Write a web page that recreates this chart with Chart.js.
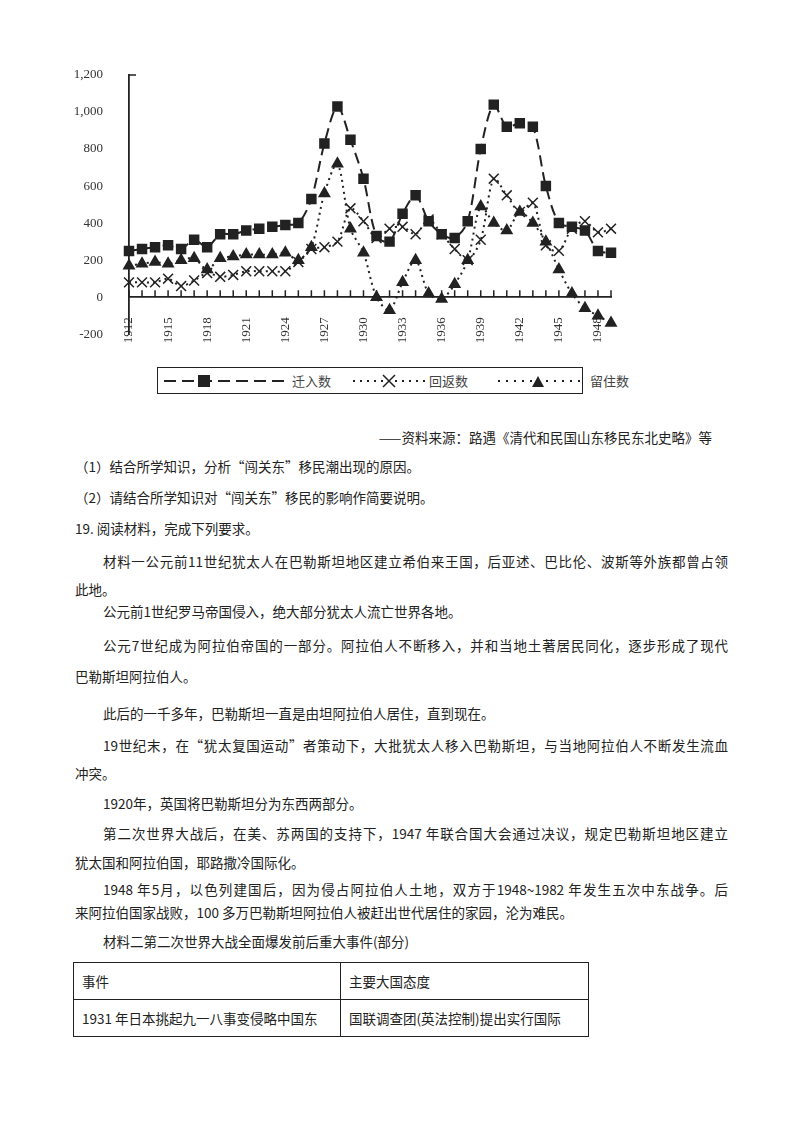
<!DOCTYPE html>
<html>
<head>
<meta charset="utf-8">
<script src="https://cdn.jsdelivr.net/npm/chart.js@4/dist/chart.umd.min.js"></script>
<style>
  body { margin: 0; background: #fff; width: 800px; height: 1132px; position: relative; overflow: hidden;
         font-family: "Noto Sans CJK SC", sans-serif; color: #222; }
  #wrap { position: absolute; left: 0; top: 0; width: 800px; height: 360px; }
  #legend { position: absolute; left: 157px; top: 367px; width: 424px; height: 25px; border: 1.5px solid #222;
            font-size: 13px; color: #444; display: flex; align-items: center; white-space: nowrap; }
  #legend > span { display: inline-flex; align-items: center; flex-shrink: 0; }
  .ln { position: absolute; font-size: 13.5px; line-height: 20px; white-space: nowrap; }
  .full { text-align: justify; text-align-last: justify; }
  table { position: absolute; left: 73px; top: 962px; width: 516px; border-collapse: collapse; font-size: 13.5px; table-layout: fixed; }
  td { border: 1.3px solid #222; height: 36px; padding: 0 8px; white-space: nowrap; overflow: hidden; }
</style>
</head>
<body>
<div id="wrap"><canvas id="c"></canvas></div>
<div id="legend">
  <span style="margin-left:6px"><svg width="120" height="14"><line x1="0" y1="7" x2="120" y2="7" stroke="#222" stroke-width="2" stroke-dasharray="12,6"/><rect x="34" y="1" width="12" height="12" fill="#222"/></svg><span style="margin-left:8px">迁入数</span></span>
  <span style="margin-left:22px"><svg width="72" height="14"><line x1="0" y1="7" x2="72" y2="7" stroke="#222" stroke-width="2" stroke-dasharray="2,5"/><path d="M30 1 L42 13 M42 1 L30 13" stroke="#222" stroke-width="1.5"/></svg><span style="margin-left:4px">回返数</span></span>
  <span style="margin-left:30px"><svg width="88" height="14"><line x1="0" y1="7" x2="88" y2="7" stroke="#222" stroke-width="2" stroke-dasharray="2,6"/><path d="M34 13 L40 2 L46 13 Z" fill="#222"/></svg><span style="margin-left:4px">留住数</span></span>
</div>

<div class="ln" style="left:372px;top:427px;width:340px;text-align:right;">——资料来源：路遇《清代和民国山东移民东北史略》等</div>
<div class="ln" style="left:75px;top:456px;">（1）结合所学知识，分析“闯关东”移民潮出现的原因。</div>
<div class="ln" style="left:75px;top:487px;">（2）请结合所学知识对“闯关东”移民的影响作简要说明。</div>
<div class="ln" style="left:75px;top:518px;">19. 阅读材料，完成下列要求。</div>
<div class="ln full" style="left:103px;top:551px;width:625px;">材料一公元前11世纪犹太人在巴勒斯坦地区建立希伯来王国，后亚述、巴比伦、波斯等外族都曾占领</div>
<div class="ln" style="left:75px;top:579px;">此地。</div>
<div class="ln" style="left:103px;top:601px;">公元前1世纪罗马帝国侵入，绝大部分犹太人流亡世界各地。</div>
<div class="ln full" style="left:103px;top:635px;width:625px;">公元7世纪成为阿拉伯帝国的一部分。阿拉伯人不断移入，并和当地土著居民同化，逐步形成了现代</div>
<div class="ln" style="left:75px;top:666px;">巴勒斯坦阿拉伯人。</div>
<div class="ln" style="left:103px;top:703px;">此后的一千多年，巴勒斯坦一直是由坦阿拉伯人居住，直到现在。</div>
<div class="ln full" style="left:103px;top:735px;width:625px;">19世纪末，在“犹太复国运动”者策动下，大批犹太人移入巴勒斯坦，与当地阿拉伯人不断发生流血</div>
<div class="ln" style="left:75px;top:763px;">冲突。</div>
<div class="ln" style="left:103px;top:793px;">1920年，英国将巴勒斯坦分为东西两部分。</div>
<div class="ln full" style="left:103px;top:823px;width:625px;">第二次世界大战后，在美、苏两国的支持下，1947 年联合国大会通过决议，规定巴勒斯坦地区建立</div>
<div class="ln" style="left:75px;top:852px;">犹太国和阿拉伯国，耶路撒冷国际化。</div>
<div class="ln full" style="left:103px;top:879px;width:625px;">1948 年5月，以色列建国后，因为侵占阿拉伯人土地，双方于1948~1982 年发生五次中东战争。后</div>
<div class="ln" style="left:75px;top:902px;">来阿拉伯国家战败，100 多万巴勒斯坦阿拉伯人被赶出世代居住的家园，沦为难民。</div>
<div class="ln" style="left:103px;top:931px;">材料二第二次世界大战全面爆发前后重大事件(部分)</div>
<table>
  <tr><td style="width:250px">事件</td><td>主要大国态度</td></tr>
  <tr><td>1931 年日本挑起九一八事变侵略中国东</td><td>国联调查团(英法控制)提出实行国际</td></tr>
  <tr><td style="border-bottom:none;border-left:none;border-right:none"></td><td style="border:none"></td></tr>
</table>

<script>
const years = ['1912','1913','1914','1915','1916','1917','1918','1919','1920','1921','1922','1923','1924','1925','1926','1927','1928','1929','1930','1931','1932','1933','1934','1935','1936','1937','1938','1939','1940','1941','1942','1943','1944','1945','1946','1947','1948','1949'];
const moveIn = [250,260,270,280,260,310,270,340,340,360,370,380,390,400,530,830,1030,850,640,330,300,450,550,410,340,320,410,800,1040,920,940,920,600,400,380,360,250,240];
const returned = [80,80,80,100,60,90,130,110,120,140,140,140,140,190,260,270,300,480,410,320,370,380,340,420,340,260,200,310,640,550,460,510,280,250,370,410,350,370];
const stayed = [170,180,190,180,200,210,150,210,220,230,230,230,240,200,270,560,720,370,240,0,-70,80,200,20,-10,70,200,490,400,360,460,400,300,150,20,-60,-100,-140];
const yTicks = [-200,0,200,400,600,800,1000,1200];

const ink = '#222';
const yearTicks = {
  id: 'yearTicks',
  afterDatasetsDraw(chart) {
    const { ctx, scales: { x, y } } = chart;
    const y0 = y.getPixelForValue(0);
    ctx.save();
    ctx.strokeStyle = ink; ctx.lineWidth = 1.5;
    ctx.beginPath();
    years.forEach((_, i) => { const px = x.getPixelForValue(i); ctx.moveTo(px, y0); ctx.lineTo(px, y0 - 7); });
    const yt = y.getPixelForValue(1200);
    ctx.moveTo(x.left, yt); ctx.lineTo(x.left + 7, yt);
    ctx.stroke();
    ctx.restore();
  }
};

new Chart(document.getElementById('c'), {
  type: 'line',
  data: {
    labels: years,
    datasets: [
      { label: '迁入数', data: moveIn, borderColor: ink, backgroundColor: ink, borderWidth: 2, borderDash: [11, 6],
        pointStyle: 'rect', pointRadius: 6, tension: 0.3 },
      { label: '回返数', data: returned, borderColor: ink, backgroundColor: ink, borderWidth: 2, borderDash: [2, 4],
        pointStyle: 'crossRot', pointRadius: 7, pointBorderWidth: 1.5, tension: 0.3 },
      { label: '留住数', data: stayed, borderColor: ink, backgroundColor: ink, borderWidth: 2, borderDash: [2, 4],
        pointStyle: 'triangle', pointRadius: 5.5, tension: 0.3 }
    ]
  },
  options: {
    responsive: true, maintainAspectRatio: false, animation: false,
    layout: { padding: { left: 59, right: 189, top: 75, bottom: 23 } },
    plugins: { legend: { display: false }, tooltip: { enabled: false } },
    scales: {
      x: {
        position: { y: 0 },
        grid: { display: false },
        border: { color: ink, width: 1.8 },
        ticks: { autoSkip: false, maxRotation: 90, minRotation: 90, padding: 12, color: '#333',
                 font: { family: 'Liberation Serif', size: 13 },
                 callback: (v, i) => i % 3 === 0 ? years[i] : '' }
      },
      y: {
        min: -200, max: 1200,
        afterFit: s => { s.width = 70; },
        afterBuildTicks: s => { s.ticks = yTicks.map(v => ({ value: v })); },
        grid: { display: false },
        border: { color: ink, width: 1.8 },
        ticks: { padding: 18, color: '#333', font: { family: 'Liberation Serif', size: 13 } }
      }
    }
  },
  plugins: [yearTicks]
});
</script>
</body>
</html>
